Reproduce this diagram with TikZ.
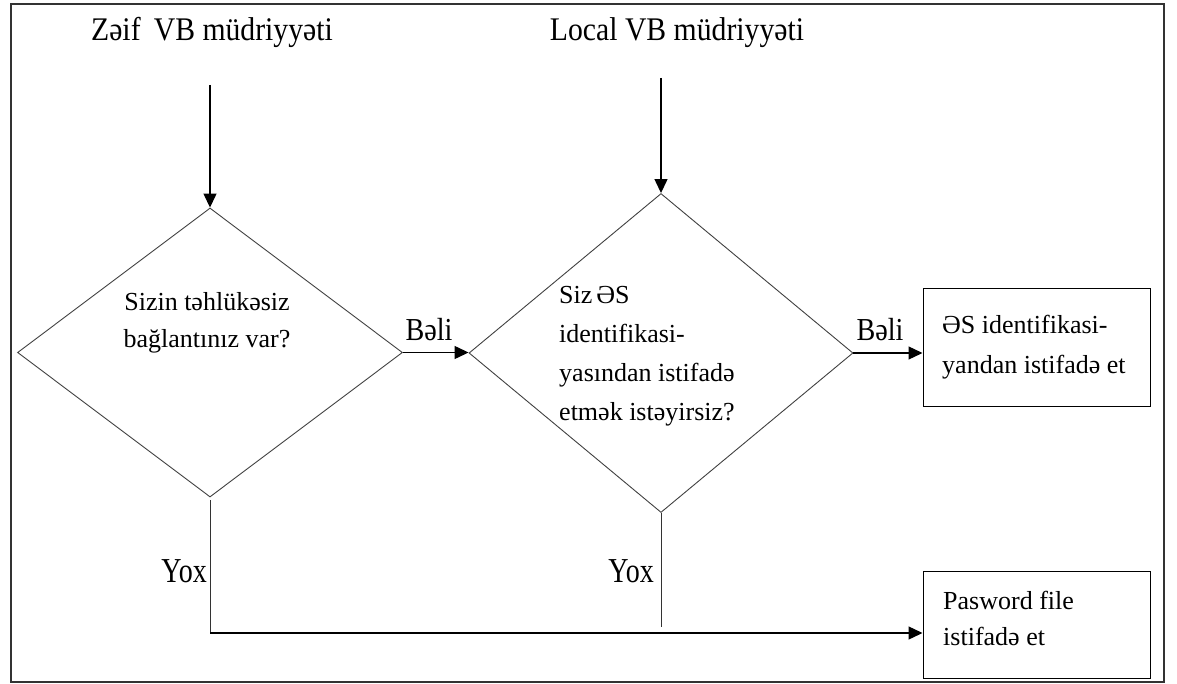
\documentclass[tikz,border=0pt]{standalone}
\usepackage{fontspec}
\setmainfont{Liberation Serif}
\usetikzlibrary{shapes.geometric,arrows.meta}
\begin{document}
\begin{tikzpicture}[x=1pt,y=-1pt,
  title/.style={font=\addfontfeatures{FakeStretch=0.9}\fontsize{33}{38}\selectfont, inner sep=0pt, anchor=base},
  lbl/.style={font=\addfontfeatures{FakeStretch=0.88}\fontsize{32}{36}\selectfont, inner sep=0pt},
  nolbl/.style={font=\addfontfeatures{FakeStretch=0.8}\fontsize{35}{38}\selectfont, inner sep=0pt},
  qtext/.style={inner sep=0pt},
  decision/.style={diamond, draw=black!75, line width=0.9pt, inner sep=0pt},
  actbox/.style={rectangle, draw=black, line width=1pt, inner sep=0pt},
  flow/.style={line width=1.3pt, -{Triangle[length=14pt,width=13pt]}},
  plain/.style={line width=1pt, draw=black!80}
]
\useasboundingbox (0,0) rectangle (1177,684);
% outer frame
\draw[line width=1.2pt, black!80] (11,4) rectangle (1164,682);

% headings
\node[title] (t1) at (212,41) {Zəif\hspace{0.4em}VB müdriyyəti};
\node[title] (t2) at (677,41) {Local VB müdriyyəti};

% decisions
\node[decision, minimum width=385pt, minimum height=289pt] (d1) at (210,352.5) {};
\node[decision, minimum width=384pt, minimum height=319pt] (d2) at (661,353) {};

\node[qtext, align=center, font=\fontsize{26}{37}\selectfont] (q1) at (207,323)
  {Sizin təhlükəsiz\\bağlantınız var?};
\node[qtext, align=left, anchor=west, font=\fontsize{26}{39}\selectfont] (q2) at (559,356)
  {Siz\hspace{0.15em}ƏS\\identifikasi-\\yasından istifadə\\etmək istəyirsiz?};

% actions
\node[actbox, minimum width=227pt, minimum height=117pt] (b1) at (1036.5,347.5) {};
\node[actbox, minimum width=227pt, minimum height=107pt] (b2) at (1036.5,624.5) {};

\node[qtext, align=left, anchor=west, font=\fontsize{26}{40}\selectfont] (a1) at (942,347)
  {ƏS identifikasi-\\yandan istifadə et};
\node[qtext, align=left, anchor=west, font=\fontsize{26}{36}\selectfont] (a2) at (943,618)
  {Pasword file\\istifadə et};

% entry arrows
\coordinate (s1) at (210,85);
\coordinate (s2) at (661,78);
\draw[flow] (s1) -- (d1.north);
\draw[flow] (s2) -- (d2.north);

% yes branches
\draw[flow] (d1.east) -- (d2.west |- d1.east);
\draw[flow] (d2.east) -- (b1.west |- d2.east);
\node[lbl, anchor=base] (y1) at (429,340) {Bəli};
\node[lbl, anchor=base] (y2) at (880,341) {Bəli};

% no branches
\coordinate (n1) at (210,632);
\coordinate (h1) at (210,633);
\coordinate (n2) at (661,627);
\draw[plain] ([yshift=-3pt]d1.south) -- (n1);
\draw[plain] (d2.south) -- (n2);
\draw[flow] (h1) -- (b2.west |- h1);
\node[nolbl, anchor=base east] (x1) at (207,582) {Yox};
\node[nolbl, anchor=base east] (x2) at (654,582) {Yox};
\end{tikzpicture}
\end{document}
